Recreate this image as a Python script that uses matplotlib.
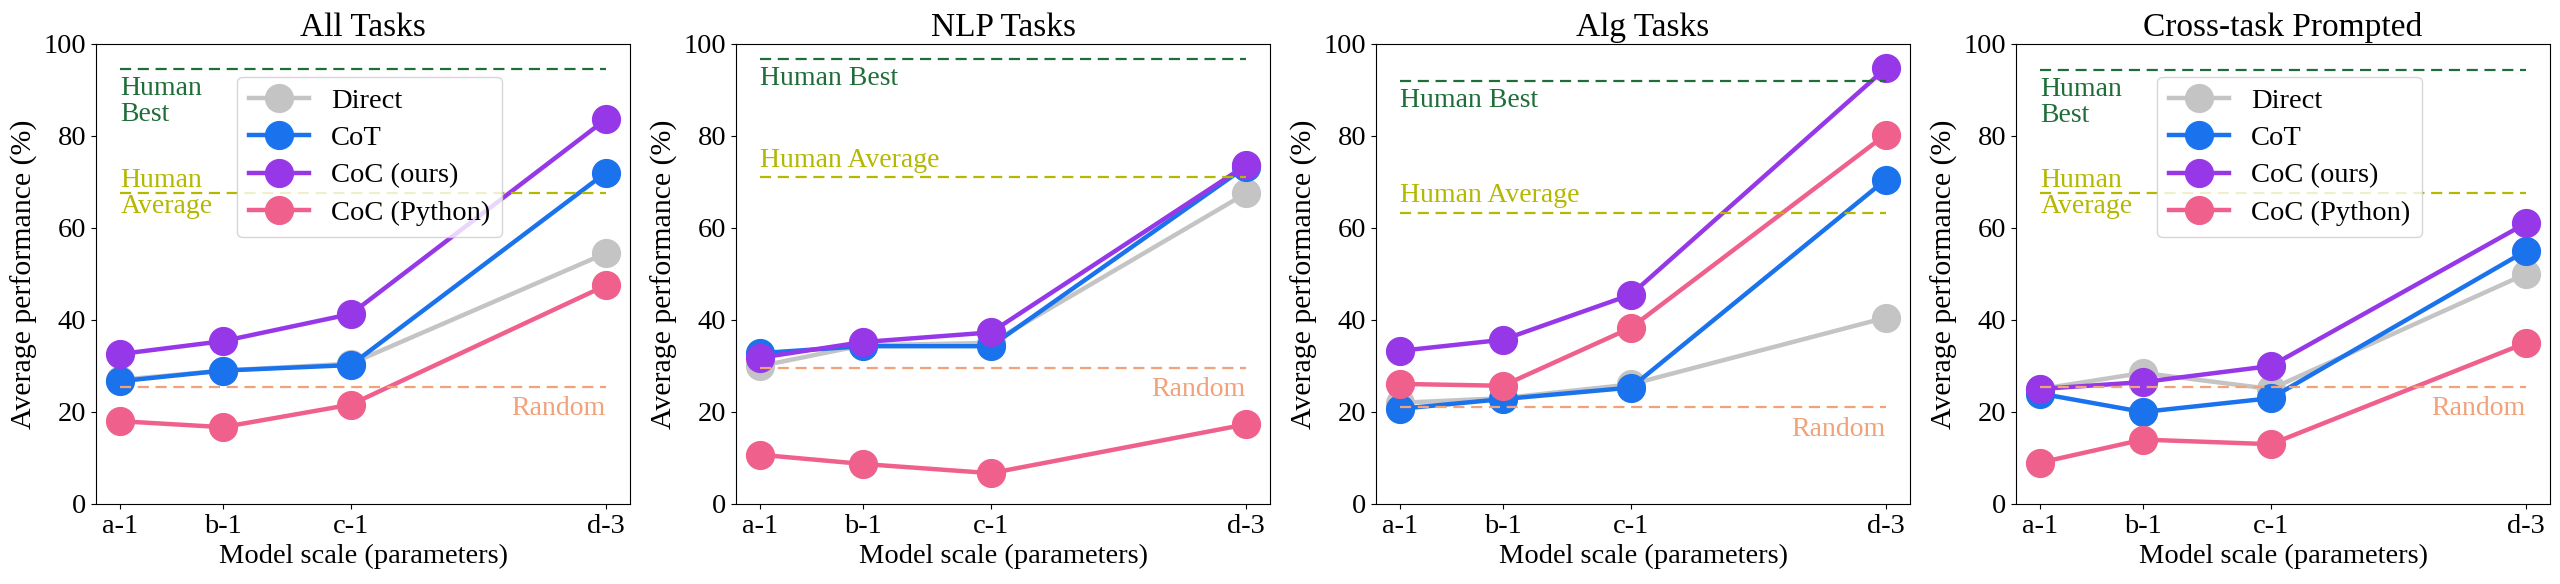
import matplotlib
matplotlib.use("Agg")
import matplotlib.pyplot as plt

plt.rcParams['font.family'] = ['Liberation Serif', 'DejaVu Serif']
plt.rcParams['mathtext.fontset'] = 'stix'

models = ['a-1', 'b-1', 'c-1', 'd-3']
x_pos = [0, 0.845, 1.9, 4.0]

titles = ['All Tasks', 'NLP Tasks', 'Alg Tasks', 'Cross-task Prompted']

direct = [[27.0, 29.0, 30.5, 54.5],
          [30.0, 34.5, 35.0, 67.5],
          [22.0, 23.0, 26.0, 40.5],
          [25.0, 28.5, 25.0, 50.0]]
cot = [[26.7, 29.0, 30.2, 72.0],
       [32.8, 34.3, 34.3, 73.3],
       [20.7, 22.8, 25.3, 70.5],
       [24.0, 20.0, 23.0, 55.0]]
coc = [[32.6, 35.4, 41.3, 83.6],
       [31.8, 35.2, 37.3, 73.6],
       [33.3, 35.7, 45.5, 94.7],
       [25.0, 26.5, 30.0, 61.0]]
coc_py = [[18.0, 16.7, 21.6, 47.5],
          [10.7, 8.7, 6.7, 17.3],
          [26.1, 25.7, 38.3, 80.3],
          [9.0, 14.0, 13.0, 35.0]]

human_best = [94.5, 96.8, 92.0, 94.3]
human_avg = [67.5, 71.0, 63.3, 67.5]
random_line = [25.5, 29.5, 21.0, 25.5]
split_labels = [True, False, False, True]

series = [('Direct', direct, '#c4c4c4'),
          ('CoT', cot, '#1a73ec'),
          ('CoC (ours)', coc, '#9638e8'),
          ('CoC (Python)', coc_py, '#f0608c')]

best_col = '#1f6e3a'
avg_col = '#b4b800'
rand_col = '#f0a27a'

fig = plt.figure(figsize=(25.6, 5.84), dpi=100)

for i in range(4):
    ax = fig.add_axes([0.0375 + 0.25 * i, 0.137, 0.2086, 0.7877])

    for name, data, col in series:
        ax.plot(x_pos, data[i], color=col, lw=3.2, marker='o', markersize=20,
                label=name)

    ax.hlines(human_best[i], x_pos[0], x_pos[-1], colors=best_col,
              linestyles=(0, (5, 3)), lw=1.6)
    ax.hlines(human_avg[i], x_pos[0], x_pos[-1], colors=avg_col,
              linestyles=(0, (5, 3)), lw=1.6)
    ax.hlines(random_line[i], x_pos[0], x_pos[-1], colors=rand_col,
              linestyles=(0, (5, 3)), lw=1.6)

    if split_labels[i]:
        ax.text(x_pos[0], human_best[i] - 1.5, 'Human\nBest', color=best_col,
                fontsize=20, ha='left', va='top', linespacing=1.05)
        ax.text(x_pos[0], human_avg[i], 'Human\nAverage', color=avg_col,
                fontsize=20, ha='left', va='center', linespacing=1.05)
    else:
        ax.text(x_pos[0], human_best[i] - 1.5, 'Human Best', color=best_col,
                fontsize=20, ha='left', va='top')
        ax.text(x_pos[0], human_avg[i] + 1.0, 'Human Average', color=avg_col,
                fontsize=20, ha='left', va='bottom')
    ax.text(x_pos[-1], random_line[i] - 2.0, 'Random', color=rand_col,
            fontsize=20, ha='right', va='top')

    ax.set_ylim(0, 100)
    ax.set_xticks(x_pos)
    ax.set_xticklabels(models)
    ax.tick_params(labelsize=20.5)
    ax.set_title(titles[i], fontsize=24)
    ax.set_xlabel('Model scale (parameters)', fontsize=20.5)
    ax.set_ylabel('Average performance (%)', fontsize=21.5)

    if split_labels[i]:
        ax.legend(loc='upper left', bbox_to_anchor=(0.238, 0.96), fontsize=20.5,
                  handlelength=2.1, handletextpad=0.8, labelspacing=0.4)

fig.savefig('out.png', dpi=100)
